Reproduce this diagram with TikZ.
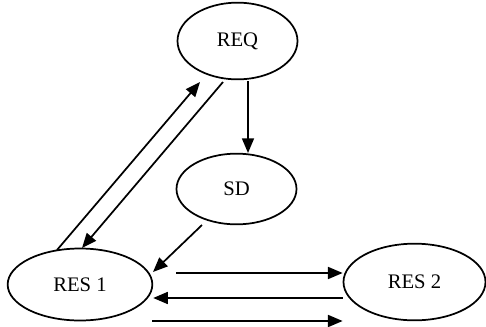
\documentclass[tikz,border=0pt]{standalone}
\usepackage{fontspec}
\setmainfont{Liberation Serif}
\usepackage{tikz}
\usetikzlibrary{calc}
\usetikzlibrary{shapes}
\usetikzlibrary{arrows.meta}

\tikzset{
	state/.style={draw, ellipse, line width=1.3pt, inner sep=0pt, font=\fontsize{15.5}{18}\selectfont},
	link/.style={line width=1.3pt, -{Triangle[length=11pt,width=9pt]}}
}

\begin{document}
\begin{tikzpicture}[x=0.75pt, y=-0.75pt]
		\useasboundingbox (0,0) rectangle (486,326);

		\node[state, minimum width=90pt, minimum height=57.5pt] (REQ) at (237.5, 41) {REQ};
		\node[state, minimum width=90pt, minimum height=53pt] (SD) at (236.5, 189) {SD};
		\node[state, minimum width=108.5pt, minimum height=54pt] (RES1) at (80, 284.5) {RES 1};
		\node[state, minimum width=106.5pt, minimum height=57.5pt] (RES2) at (414.5, 282) {RES 2};

		\draw[link] ($(REQ.center)+(10.5,40)$) -- ($(SD.center)+(11.5,-36)$);
		\draw[link] ($(RES1.center)+(-23,-34.5)$) -- ($(REQ.center)+(-37.5,41)$);
		\draw[link] ($(REQ.center)+(-14.5,41)$) -- ($(RES1.center)+(2,-36.5)$);
		\draw[link] ($(SD.center)+(-34.5,36)$) -- ($(RES1.center)+(73,-12.5)$);

		\draw[link] ($(RES1.east)+(23,-11.5)$) -- ($(RES2.west)+(0,-9)$);
		\draw[link] ($(RES2.west)+(0,16)$) -- ($(RES1.east)+(0,13.5)$);
		\draw[link] ($(RES1.east)+(-1,36.5)$) -- ($(RES2.west)+(0,39)$);
	\end{tikzpicture}
\end{document}
